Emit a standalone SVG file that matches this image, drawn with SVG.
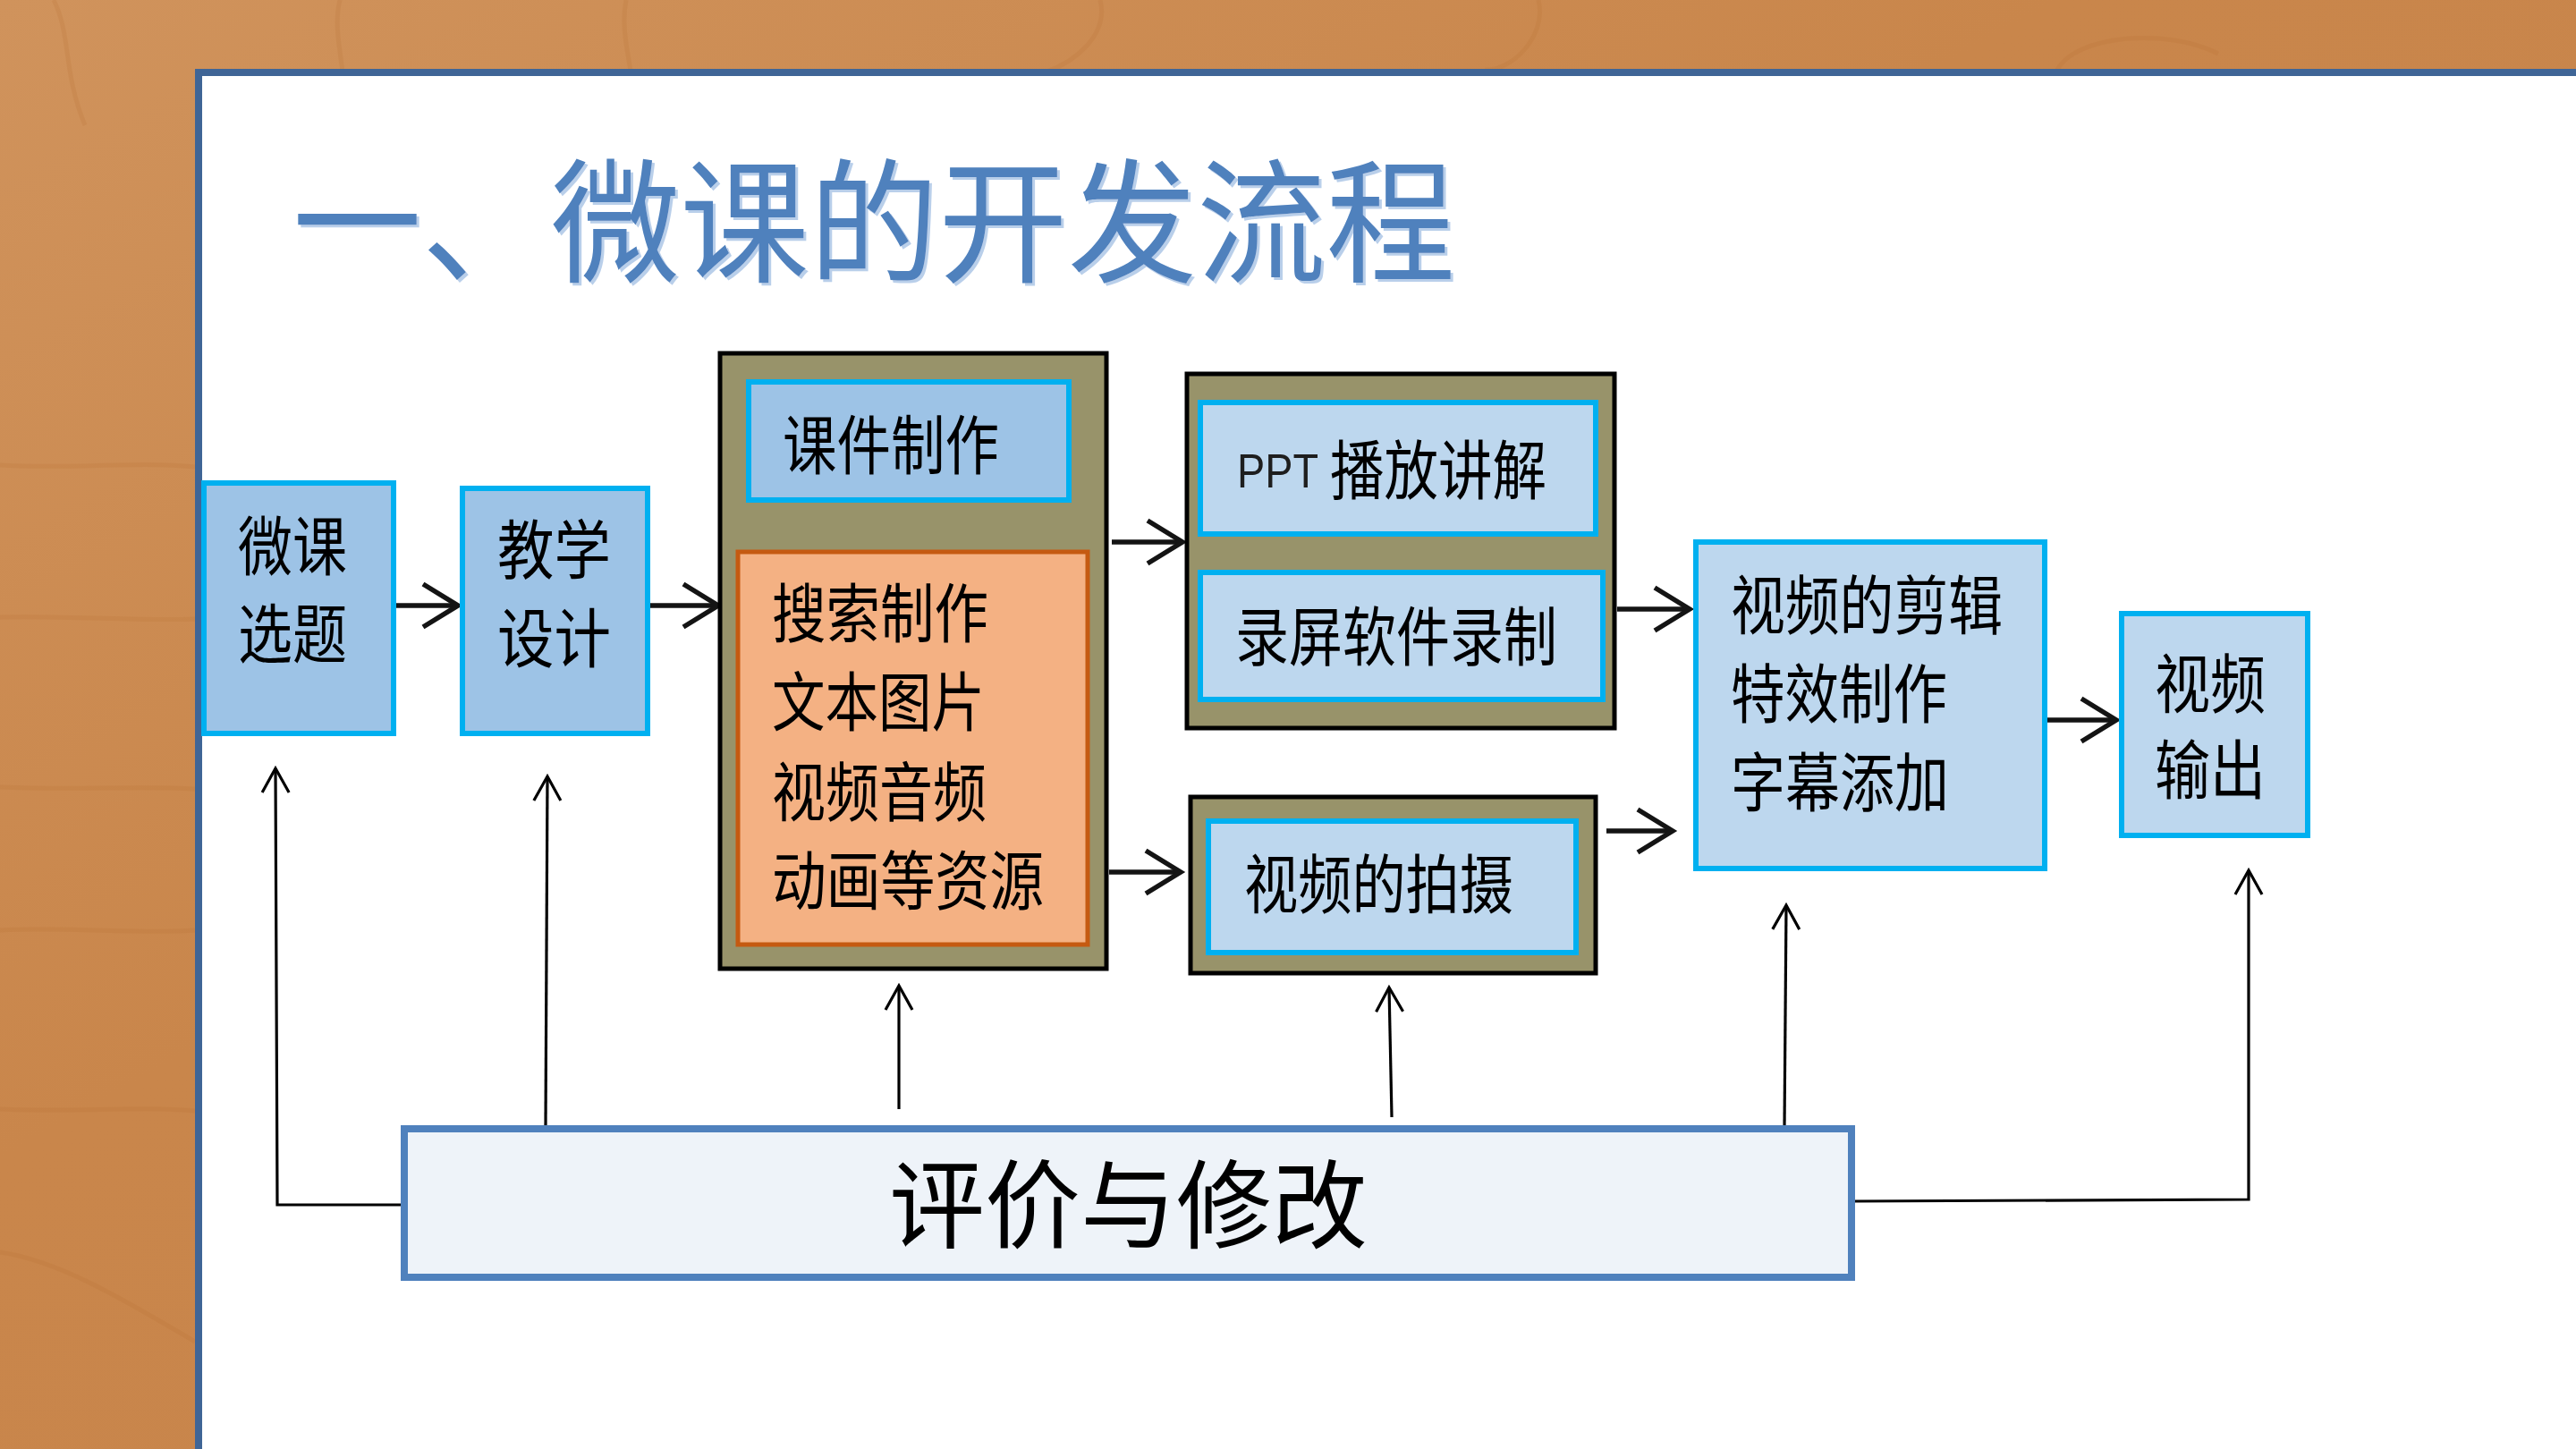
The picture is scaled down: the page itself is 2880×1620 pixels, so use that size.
<svg xmlns="http://www.w3.org/2000/svg" width="2880" height="1620" viewBox="0 0 2880 1620">
<defs>
<linearGradient id="wood" x1="0" y1="0" x2="1" y2="1">
<stop offset="0" stop-color="#D0935C"/>
<stop offset="0.4" stop-color="#C9864B"/>
<stop offset="1" stop-color="#C7844C"/>
</linearGradient>
<filter id="tshadow" x="-5%" y="-5%" width="110%" height="120%">
<feDropShadow dx="3" dy="3" stdDeviation="0.5" flood-color="#B9CFEA" flood-opacity="1"/>
</filter>
<marker id="ah" markerUnits="userSpaceOnUse" markerWidth="60" markerHeight="60" refX="0" refY="0" orient="auto" overflow="visible">
<path d="M -39 -24 L 0 0 L -39 24" fill="none" stroke="#141414" stroke-width="5.5" stroke-linejoin="miter"/>
</marker>
<marker id="at" markerUnits="userSpaceOnUse" markerWidth="40" markerHeight="40" refX="0" refY="0" orient="auto" overflow="visible">
<path d="M -27 -15 L 0 0 L -27 15" fill="none" stroke="#000" stroke-width="3.2" stroke-linejoin="miter"/>
</marker>
</defs>
<style>
.blue{fill:#9DC3E6;stroke:#00B0F0;stroke-width:6}
.lblue{fill:#BDD7EE;stroke:#00B0F0;stroke-width:6}
.olive{fill:#98936A;stroke:#000;stroke-width:5}
.orange{fill:#F4B183;stroke:#C55A11;stroke-width:5}
.fb{fill:#EEF3F9;stroke:#4F81BD;stroke-width:8}
.t{font-family:"Noto Sans CJK SC","Noto Sans",sans-serif;font-size:72px;fill:#000}
.thick{fill:none;stroke:#141414;stroke-width:5.5;marker-end:url(#ah)}
.thin{fill:none;stroke:#000;stroke-width:3.2;marker-end:url(#at)}
</style>
<!-- background -->
<rect x="0" y="0" width="2880" height="1620" fill="url(#wood)"/>
<g fill="none" stroke="#B86F33" stroke-opacity="0.18" stroke-width="5">
<path d="M 60 0 C 80 40 70 80 95 140"/>
<path d="M 380 0 C 370 40 390 80 385 140"/>
<path d="M 700 0 C 690 50 720 100 705 150"/>
<path d="M 1230 0 C 1240 40 1200 70 1170 80"/>
<path d="M 1720 0 C 1730 40 1690 80 1660 78"/>
<path d="M 2300 78 C 2320 40 2420 30 2480 60"/>
<path d="M 0 520 C 80 525 150 515 218 522"/>
<path d="M 0 690 C 80 688 160 695 218 692"/>
<path d="M 0 880 C 90 884 150 878 218 882"/>
<path d="M 0 1040 C 80 1036 160 1045 218 1040"/>
<path d="M 0 1240 C 90 1244 150 1236 218 1242"/>
<path d="M 0 1400 C 70 1410 150 1460 218 1500"/>
</g>
<!-- panel -->
<rect x="222" y="81" width="2700" height="1600" fill="#FFFFFF" stroke="#3F6596" stroke-width="8"/>
<!-- title -->
<text x="327" y="304" font-family="'Noto Sans CJK SC','Noto Sans',sans-serif" font-size="150" fill="#4F81BD" textLength="1300" lengthAdjust="spacingAndGlyphs" filter="url(#tshadow)">一、微课的开发流程</text>

<!-- connectors -->
<g id="connectors">
<path class="thick" d="M 441 677 L 512 677"/>
<path class="thick" d="M 727 677 L 803 677"/>
<path class="thick" d="M 1243 606 L 1322 606"/>
<path class="thick" d="M 1240 975 L 1320 975"/>
<path class="thick" d="M 1808 681 L 1889 681"/>
<path class="thick" d="M 1796 929 L 1870 929"/>
<path class="thick" d="M 2289 805 L 2366 805"/>
<path class="thin" d="M 452 1347 L 310 1347 L 308 859"/>
<path class="thin" d="M 610 1258 L 612 868"/>
<path class="thin" d="M 1005 1240 L 1005 1102"/>
<path class="thin" d="M 1556 1249 L 1553 1104"/>
<path class="thin" d="M 1995 1260 L 1997 1012"/>
<path class="thin" d="M 2072 1343 L 2514 1341 L 2514 973"/>
</g>

<g id="n-topic">
<rect class="blue" x="228" y="540" width="212" height="280"/>
<text class="t" x="266" y="637" textLength="122" lengthAdjust="spacingAndGlyphs">微课</text>
<text class="t" x="266" y="735" textLength="122" lengthAdjust="spacingAndGlyphs">选题</text>
</g>
<g id="n-design">
<rect class="blue" x="517" y="546" width="207" height="274"/>
<text class="t" x="556" y="641" textLength="127" lengthAdjust="spacingAndGlyphs">教学</text>
<text class="t" x="556" y="740" textLength="127" lengthAdjust="spacingAndGlyphs">设计</text>
</g>
<g id="n-materials">
<rect class="olive" x="805" y="395" width="432" height="688"/>
<g id="n-courseware">
<rect class="blue" x="837" y="427" width="358" height="132"/>
<text class="t" x="875" y="524" textLength="242" lengthAdjust="spacingAndGlyphs">课件制作</text>
</g>
<g id="n-resources">
<rect class="orange" x="825" y="617" width="391" height="439"/>
<text class="t" x="863" y="712" textLength="242" lengthAdjust="spacingAndGlyphs">搜索制作</text>
<text class="t" x="863" y="811" textLength="238" lengthAdjust="spacingAndGlyphs">文本图片</text>
<text class="t" x="863" y="912" textLength="240" lengthAdjust="spacingAndGlyphs">视频音频</text>
<text class="t" x="863" y="1011" textLength="304" lengthAdjust="spacingAndGlyphs">动画等资源</text>
</g>
</g>
<g id="n-recording">
<rect class="olive" x="1327" y="418" width="478" height="396"/>
<g id="n-ppt">
<rect class="lblue" x="1342" y="450" width="442" height="147"/>
<text x="1383" y="545" font-family="'Liberation Sans',Arial,sans-serif" font-size="54" fill="#1E1E1E" textLength="91" lengthAdjust="spacingAndGlyphs">PPT</text>
<text class="t" x="1487" y="552" textLength="242" lengthAdjust="spacingAndGlyphs">播放讲解</text>
</g>
<g id="n-screen">
<rect class="lblue" x="1342" y="640" width="450" height="142"/>
<text class="t" x="1381" y="738" textLength="360" lengthAdjust="spacingAndGlyphs">录屏软件录制</text>
</g>
</g>
<g id="n-shooting">
<rect class="olive" x="1331" y="891" width="453" height="197"/>
<g id="n-shoot">
<rect class="lblue" x="1351" y="918" width="411" height="147"/>
<text class="t" x="1391" y="1015" textLength="301" lengthAdjust="spacingAndGlyphs">视频的拍摄</text>
</g>
</g>
<g id="n-edit">
<rect class="lblue" x="1896" y="606" width="390" height="365"/>
<text class="t" x="1935" y="703" textLength="304" lengthAdjust="spacingAndGlyphs">视频的剪辑</text>
<text class="t" x="1935" y="802" textLength="242" lengthAdjust="spacingAndGlyphs">特效制作</text>
<text class="t" x="1935" y="901" textLength="244" lengthAdjust="spacingAndGlyphs">字幕添加</text>
</g>
<g id="n-output">
<rect class="lblue" x="2372" y="686" width="208" height="248"/>
<text class="t" x="2409" y="791" textLength="124" lengthAdjust="spacingAndGlyphs">视频</text>
<text class="t" x="2409" y="887" textLength="124" lengthAdjust="spacingAndGlyphs">输出</text>
</g>
<g id="n-feedback">
<rect class="fb" x="452" y="1262" width="1618" height="166"/>
<text x="994" y="1387" font-family="'Noto Sans CJK SC','Noto Sans',sans-serif" font-size="108" fill="#000" textLength="535" lengthAdjust="spacingAndGlyphs">评价与修改</text>
</g>
</svg>
